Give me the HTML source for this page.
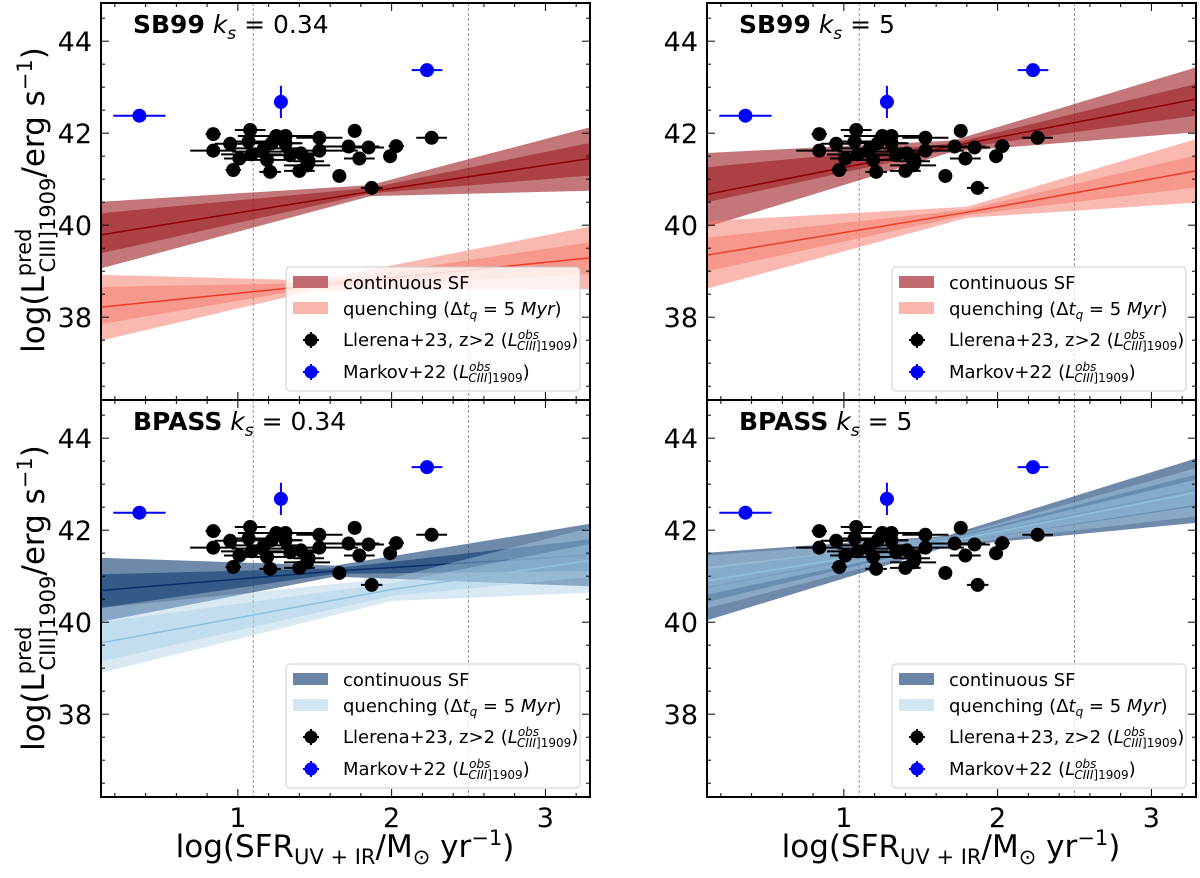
<!DOCTYPE html>
<html><head><meta charset="utf-8"><style>
html,body{margin:0;padding:0;background:#fff}
svg{display:block;font-family:"DejaVu Sans","Liberation Sans",sans-serif}
</style></head><body>
<svg id="fig" width="1200" height="878" viewBox="0 0 1200 878" xmlns="http://www.w3.org/2000/svg"></svg>
<script>
// ---- data ----
const xMin = 0.11, xMax = 3.29, yMin = 36.2, yMax = 44.83;
const xTicks = [1, 2, 3];
const yTicks = [38, 40, 42, 44];
const vLines = [1.1, 2.5];
// Llerena+23 points
const obsX = [0.84,0.84,0.95,1.08,1.07,1.01,0.97,1.09,1.17,1.19,1.21,1.25,1.22,1.31,1.31,1.34,1.41,1.46,1.40,1.53,1.53,1.72,1.76,1.85,1.79,1.66,1.87,2.03,1.99,2.26,1.45,1.16];
const obsY = [41.98,41.62,41.77,42.07,41.82,41.45,41.2,41.54,41.67,41.42,41.16,41.94,41.78,41.94,41.78,41.52,41.56,41.39,41.18,41.90,41.62,41.71,42.05,41.69,41.45,41.07,40.81,41.72,41.5,41.90,41.3,41.6];
const obsXerr = [0.05,0.15,0.1,0.1,0.15,0.1,0.05,0.2,0.25,0.15,0.07,0.25,0.2,0.25,0.1,0.2,0.1,0.1,0.1,0.15,0.25,0.2,0.02,0.1,0.1,0.02,0.07,0.05,0.02,0.1,0.15,0.2];
const obsYerr = [0.03,0.03,0.03,0.03,0.03,0.03,0.1,0.03,0.03,0.03,0.03,0.03,0.03,0.03,0.03,0.03,0.03,0.03,0.03,0.03,0.08,0.03,0.03,0.03,0.03,0.03,0.03,0.1,0.15,0.03,0.03,0.03];
// Markov+22 points
const mkX = [0.36, 1.28, 2.23];
const mkY = [42.38, 42.68, 43.37];
const mkXerr = [0.17, 0.02, 0.1];
const mkYerr = [0.05, 0.35, 0.05];
// bands per panel: x nodes, outer hi/lo, inner hi/lo, center
const tlContX=[0.11,1.86,3.29], tlContOHi=[40.51,40.87,42.13], tlContOLo=[39.06,40.63,40.75], tlContIHi=[40.26,40.81,41.79], tlContILo=[39.39,40.69,41.08], tlContC=[39.79,40.73,41.45];
const tlQX=[0.11,1.5,3.29], tlQOHi=[38.92,38.8,39.97], tlQOLo=[37.49,38.58,38.61], tlQIHi=[38.66,38.74,39.63], tlQILo=[37.85,38.64,38.94], tlQC=[38.22,38.69,39.29];
const trContX=[0.11,1.71,3.29], trContOHi=[41.57,41.84,43.43], trContOLo=[39.96,41.6,42.02], trContIHi=[41.26,41.78,43.07], trContILo=[40.5,41.66,42.38], trContC=[40.67,41.72,42.74];
const trQX=[0.11,1.8,3.29], trQOHi=[40.09,40.4,41.87], trQOLo=[38.62,40.16,40.49], trQIHi=[39.73,40.34,41.52], trQILo=[39.0,40.22,40.82], trQC=[39.35,40.28,41.18];
const blContX=[0.11,1.63,3.29], blContOHi=[41.4,41.23,42.14], blContOLo=[40.01,40.99,40.78], blContIHi=[41.04,41.17,41.8], blContILo=[40.31,41.05,41.11], blContC=[40.69,41.11,41.46];
const blQX=[0.11,2.0,3.29], blQOHi=[40.31,40.96,42.05], blQOLo=[38.9,40.46,40.64], blQIHi=[40.0,40.85,41.7], blQILo=[39.15,40.57,40.98], blQC=[39.55,40.71,41.34];
const brContX=[0.11,1.67,3.29], brContOHi=[41.51,41.88,43.56], brContOLo=[40.04,41.64,42.16], brContIHi=[41.15,41.82,43.21], brContILo=[40.44,41.7,42.52], brContC=[40.75,41.76,42.88];
const brQX=[0.11,1.7,3.29], brQOHi=[41.45,41.86,43.35], brQOLo=[40.3,41.68,42.3], brQIHi=[41.2,41.82,43.1], brQILo=[40.6,41.72,42.55], brQC=[40.9,41.77,42.82];

const NS="http://www.w3.org/2000/svg";
const svg=document.getElementById('fig');
function mk(tag,attrs,parent){const e=document.createElementNS(NS,tag);for(const k in attrs)e.setAttribute(k,attrs[k]);(parent||svg).appendChild(e);return e;}

const PW=489, PH=397;
const panels=[
 {name:'sb99-ks034',x:101,y:3,model:'SB99',ks:'0.34',red:true,c:[tlContX,tlContOHi,tlContOLo,tlContIHi,tlContILo,tlContC],q:[tlQX,tlQOHi,tlQOLo,tlQIHi,tlQILo,tlQC],bottom:false},
 {name:'sb99-ks5',x:707,y:3,model:'SB99',ks:'5',red:true,c:[trContX,trContOHi,trContOLo,trContIHi,trContILo,trContC],q:[trQX,trQOHi,trQOLo,trQIHi,trQILo,trQC],bottom:false},
 {name:'bpass-ks034',x:101,y:400,model:'BPASS',ks:'0.34',red:false,c:[blContX,blContOHi,blContOLo,blContIHi,blContILo,blContC],q:[blQX,blQOHi,blQOLo,blQIHi,blQILo,blQC],bottom:true},
 {name:'bpass-ks5',x:707,y:400,model:'BPASS',ks:'5',red:false,c:[brContX,brContOHi,brContOLo,brContIHi,brContILo,brContC],q:[brQX,brQOHi,brQOLo,brQIHi,brQILo,brQC],bottom:true}
];

const defs=mk('defs',{});
panels.forEach((p,i)=>{
  const cp=mk('clipPath',{id:'clip'+i},defs);
  mk('rect',{x:p.x,y:p.y,width:PW,height:PH},cp);
});

panels.forEach((p,i)=>{
  const sx=v=>p.x+(v-xMin)/(xMax-xMin)*PW;
  const sy=v=>p.y+PH-(v-yMin)/(yMax-yMin)*PH;
  const g=mk('g',{});
  
  
  const cg=mk('g',{'clip-path':'url(#clip'+i+')'},g);
  vLines.forEach(v=>{
    const l=mk('line',{x1:sx(v),x2:sx(v),y1:p.y,y2:p.y+PH,stroke:'#999','stroke-width':1,'stroke-dasharray':'3,2'},cg);
    
    
  });
  const cols=p.red?{c:['#9b1c22','#8b0000'],q:['#f4806f','#ee3b28']}:{c:['#0e3a72','#08306b'],q:['#a9cfe6','#8ec0de']};
  function band(arr,col,nm,op){
    const [X,OH,OL,IH,IL,C]=arr;
    const poly=(H,L)=>X.map((x,k)=>sx(x)+','+sy(H[k])).join(' ')+' '+X.slice().reverse().map((x,k)=>sx(x)+','+sy(L[X.length-1-k])).join(' ');
    const o=mk('polygon',{points:poly(OH,OL),fill:col[0],'fill-opacity':op},cg);
    
    
    const inn=mk('polygon',{points:poly(IH,IL),fill:col[0],'fill-opacity':op},cg);
    
    
    const ln=mk('polyline',{points:X.map((x,k)=>sx(x)+','+sy(C[k])).join(' '),fill:'none',stroke:col[1],'stroke-width':1.5},cg);
    
    
  }
  band(p.c,cols.c,'continuous-sf',0.6);
  band(p.q,cols.q,'quenching',p.red?0.55:0.45);
  function pts(X,Y,XE,YE,color,nm){
    X.forEach((x,k)=>{
      const pg=mk('g',{},cg);
      
      
      mk('line',{x1:sx(x-XE[k]),x2:sx(x+XE[k]),y1:sy(Y[k]),y2:sy(Y[k]),stroke:color,'stroke-width':2},pg);
      mk('line',{x1:sx(x),x2:sx(x),y1:sy(Y[k]-YE[k]),y2:sy(Y[k]+YE[k]),stroke:color,'stroke-width':2},pg);
      mk('circle',{cx:sx(x),cy:sy(Y[k]),r:7,fill:color},pg);
    });
  }
  pts(mkX,mkY,mkXerr,mkYerr,'#0000ff','markov-point');
  pts(obsX,obsY,obsXerr,obsYerr,'#000','llerena-point');
  const tg=mk('g',{stroke:'#000','stroke-width':1},g);
  for(let v=0.2;v<=3.2001;v+=0.2){
    const major=Math.abs(v-Math.round(v))<1e-6, L=major?8:4, X=sx(v);
    mk('line',{x1:X,x2:X,y1:p.y+PH,y2:p.y+PH-L},tg);
    mk('line',{x1:X,x2:X,y1:p.y,y2:p.y+L},tg);
  }
  for(let v=36.5;v<=44.8;v+=0.5){
    const major=Math.abs(v/2-Math.round(v/2))<1e-6, L=major?8:4, Y=sy(v);
    mk('line',{x1:p.x,x2:p.x+L,y1:Y,y2:Y},tg);
    mk('line',{x1:p.x+PW,x2:p.x+PW-L,y1:Y,y2:Y},tg);
  }
  yTicks.forEach(v=>{
    const t=mk('text',{x:p.x-9,y:sy(v)+10,'text-anchor':'end','font-size':27,fill:'#000'},g);
    t.textContent=String(v);
    
    
  });
  if(p.bottom){
    xTicks.forEach(v=>{
      const t=mk('text',{x:sx(v),y:827,'text-anchor':'middle','font-size':27,fill:'#000'},g);
      t.textContent=String(v);
      
      
    });
  }
  const fr=mk('rect',{x:p.x,y:p.y,width:PW,height:PH,fill:'none',stroke:'#000','stroke-width':2},g);
  
  
  const tt=mk('text',{x:p.x+32,y:p.y+30,'font-size':25,fill:'#000'},g);
  
  
  tt.innerHTML='<tspan font-weight="bold">'+p.model+'</tspan> <tspan font-style="italic">k</tspan><tspan font-style="italic" font-size="17" dy="6">s</tspan><tspan dy="-6"> = '+p.ks+'</tspan>';
  const lx=p.x+185, ly=p.y+264;
  const lg=mk('g',{},g);
  
  
  mk('rect',{x:lx,y:ly,width:294,height:124,rx:4,fill:'#fff','fill-opacity':0.8,stroke:'#ccc','stroke-width':1},lg);
  const patchC=p.red?'#c16a6f':'#6a84a6', patchQ=p.red?'#f8b6ac':'#d2e6f1';
  const r1=mk('rect',{x:lx+7,y:ly+9,width:35,height:12,fill:patchC},lg);
  
  
  const r2=mk('rect',{x:lx+7,y:ly+35,width:35,height:12,fill:patchQ},lg);
  
  
  const mkr=(cy,col,nm)=>{const gg=mk('g',{},lg);
    mk('line',{x1:lx+17,x2:lx+33,y1:cy,y2:cy,stroke:col,'stroke-width':2},gg);
    mk('line',{x1:lx+25,x2:lx+25,y1:cy-8,y2:cy+8,stroke:col,'stroke-width':2},gg);
    mk('circle',{cx:lx+25,cy:cy,r:6.5,fill:col},gg);};
  mkr(ly+73,'#000','legend-llerena-marker');
  mkr(ly+105,'#0000ff','legend-markov-marker');
  const lt=(y,html,nm)=>{const t=mk('text',{x:lx+57,y:y,'font-size':18,fill:'#000'},lg);t.innerHTML=html;};
  lt(ly+22,'continuous SF','legend-continuous-label');
  lt(ly+48,'quenching (Δ<tspan font-style="italic">t</tspan><tspan font-style="italic" font-size="12" dy="4">q</tspan><tspan dy="-4"> = 5 </tspan><tspan font-style="italic">Myr</tspan>)','legend-quenching-label');
  lt(ly+79,'Llerena+23, z&gt;2 (<tspan font-style="italic">L</tspan><tspan font-style="italic" font-size="12" dy="-7">obs</tspan><tspan font-style="italic" font-size="12" dx="-22" dy="11">CIII</tspan><tspan font-size="12">]1909</tspan><tspan dy="-4">)</tspan>','legend-llerena-label');
  lt(ly+111,'Markov+22 (<tspan font-style="italic">L</tspan><tspan font-style="italic" font-size="12" dy="-7">obs</tspan><tspan font-style="italic" font-size="12" dx="-22" dy="11">CIII</tspan><tspan font-size="12">]1909</tspan><tspan dy="-4">)</tspan>','legend-markov-label');
});

[[200,'y-axis-title-top'],[598,'y-axis-title-bottom']].forEach(([cy,nm])=>{
  const t=mk('text',{x:0,y:0,'font-size':31,'text-anchor':'middle',fill:'#000',transform:'translate(44,'+cy+') rotate(-90)'});
  
  
  t.innerHTML='log(L<tspan font-size="21" dy="-13">pred</tspan><tspan font-size="21" dx="-44" dy="24">CIII]1909</tspan><tspan dy="-11">/erg s</tspan><tspan font-size="21" dy="-12">−1</tspan><tspan dy="12">)</tspan>';
});
[[345,'x-axis-title-left'],[951,'x-axis-title-right']].forEach(([cx,nm])=>{
  const t=mk('text',{x:cx,y:857,'font-size':31,'text-anchor':'middle',fill:'#000'});
  
  
  t.innerHTML='log(SFR<tspan font-size="21" dy="7">UV + IR</tspan><tspan dy="-7">/M</tspan><tspan font-size="21" dy="7">⊙</tspan><tspan dy="-7"> yr</tspan><tspan font-size="21" dy="-12">−1</tspan><tspan dy="12">)</tspan>';
});
</script>
</body></html>
